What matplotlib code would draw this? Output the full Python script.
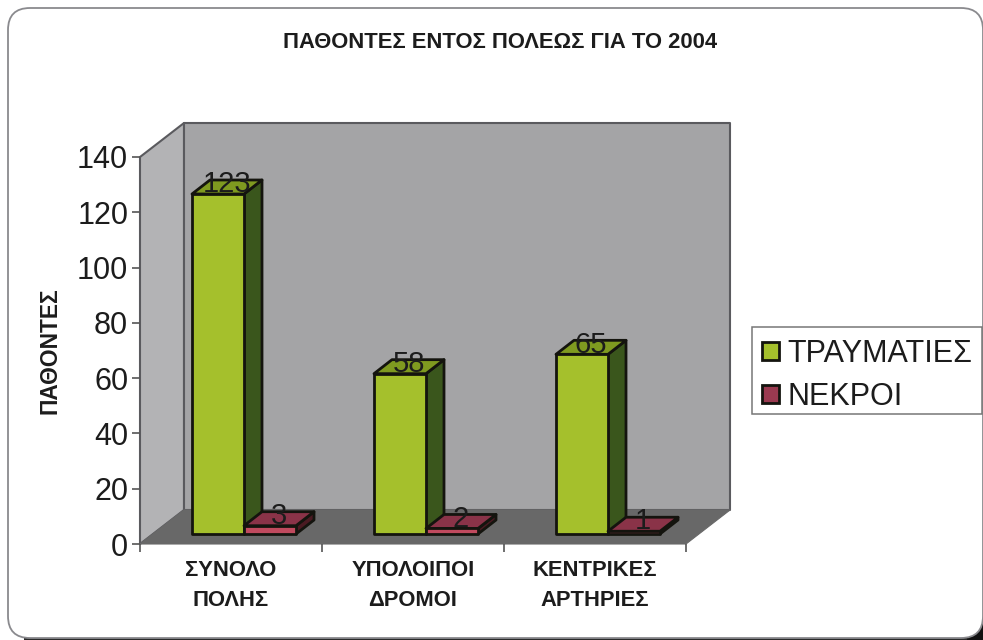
import matplotlib
matplotlib.use("Agg")
import matplotlib.pyplot as plt
from matplotlib.patches import Polygon, Rectangle, FancyBboxPatch

categories = ["ΣΥΝΟΛΟ\nΠΟΛΗΣ", "ΥΠΟΛΟΙΠΟΙ\nΔΡΟΜΟΙ", "ΚΕΝΤΡΙΚΕΣ\nΑΡΤΗΡΙΕΣ"]
injured = [123, 58, 65]
dead = [3, 2, 1]
series_names = ["ΤΡΑΥΜΑΤΙΕΣ", "ΝΕΚΡΟΙ"]
y_ticks = [0, 20, 40, 60, 80, 100, 120, 140]
title_text = "ΠΑΘΟΝΤΕΣ ΕΝΤΟΣ ΠΟΛΕΩΣ ΓΙΑ ΤΟ 2004"
y_title = "ΠΑΘΟΝΤΕΣ"

W, H = 983, 640
plt.rcParams["font.family"] = ["Liberation Sans", "DejaVu Sans"]
fig = plt.figure(figsize=(W / 100, H / 100), dpi=100, facecolor="white")

# Rounded frame around the whole chart area
bg = fig.add_axes([0, 0, 1, 1], zorder=0)
bg.set_xlim(0, W)
bg.set_ylim(H, 0)
bg.axis("off")
bg.add_patch(Rectangle((W - 20, H - 16), 20, 16, fc="#111111", ec="none"))
bg.add_patch(Rectangle((24, H - 3), W - 40, 3, fc="#2a2a2a", ec="none"))
bg.add_patch(FancyBboxPatch((8, 8), W - 8, H - 10, boxstyle="round,pad=0,rounding_size=22",
                            fc="white", ec="#8a8a8e", lw=1.3))

# Plot axes: the front plane of the 3-D box
L, R, T, B = 140, 686, 157, 544
ax = fig.add_axes([L / W, 1 - B / H, (R - L) / W, (B - T) / H], zorder=1)
ax.set_xlim(0, 3)
ax.set_ylim(0, 140)
ax.patch.set_alpha(0)
for s in ax.spines.values():
    s.set_visible(False)

px_x = 3 / (R - L)
px_y = 140 / (B - T)
box_dx, box_dy = 44 * px_x, 34 * px_y      # depth of the whole box
bar_dx, bar_dy = 18 * px_x, 14 * px_y      # depth of a bar
off_y = 10 * px_y                          # bars stand part-way into the floor
bar_w = 52 * px_x
gap = 52 * px_x
edge = "#14140e"


def poly(pts, fc, ec=edge, lw=2.0, z=2):
    ax.add_patch(Polygon(pts, closed=True, fc=fc, ec=ec, lw=lw, joinstyle="round", zorder=z, clip_on=False))


# Walls and floor
poly([(0, 0), (box_dx, box_dy), (box_dx, 140 + box_dy), (0, 140)], "#b3b3b5", ec="#5a5a5e", lw=1.5, z=1)
poly([(box_dx, box_dy), (3 + box_dx, box_dy), (3 + box_dx, 140 + box_dy), (box_dx, 140 + box_dy)],
     "#a4a4a6", ec="#5a5a5e", lw=1.5, z=1)
poly([(0, 0), (3, 0), (3 + box_dx, box_dy), (box_dx, box_dy)], "#686868", ec="#686868", lw=0.8, z=1.5)


def bar3d(x, v, front, top, side):
    y0 = off_y
    y1 = off_y + v
    poly([(x + bar_w, y0), (x + bar_w + bar_dx, y0 + bar_dy),
          (x + bar_w + bar_dx, y1 + bar_dy), (x + bar_w, y1)], side)
    poly([(x, y1), (x + bar_w, y1), (x + bar_w + bar_dx, y1 + bar_dy), (x + bar_dx, y1 + bar_dy)], top)
    poly([(x, y0), (x + bar_w, y0), (x + bar_w, y1), (x, y1)], front)


for i, (a, b) in enumerate(zip(injured, dead)):
    x1 = i + gap
    x2 = x1 + bar_w
    bar3d(x1, a, "#a5c02c", "#7f9a20", "#3a561c")
    bar3d(x2, b, "#c04a5e", "#8a3348", "#4a1a22")
    ax.text(x1 + bar_w / 2 + bar_dx / 2, off_y + a + bar_dy / 2 + 1, str(a), ha="center", va="center",
            fontsize=21, color="#1c1c1c", zorder=5)
    ax.text(x2 + bar_w / 2 + bar_dx / 2, off_y + b + bar_dy / 2 + 1, str(b), ha="center", va="center",
            fontsize=21, color="#1c1c1c", zorder=5)

# Axes ticks and labels
ax.set_yticks(y_ticks)
ax.set_yticklabels([str(v) for v in y_ticks], fontsize=22, color="#1c1c1c")
ax.set_xticks([0, 1, 2, 3])
ax.set_xticklabels([])
ax.tick_params(axis="y", length=6, width=1.2, color="#555555", pad=2.5)
ax.tick_params(axis="x", length=6, width=1.2, color="#555555")
for i, c in enumerate(categories):
    ax.text(i + 0.5, -5.8, c, ha="center", va="top", fontsize=15.8, fontweight="bold",
            color="#1c1c1c", linespacing=1.55)

fig.text(500 / W, 1 - 42 / H, title_text, ha="center", va="center", fontsize=15.8, fontweight="bold", color="#1c1c1c")
fig.text(50 / W, 1 - 351 / H, y_title, ha="center", va="center", rotation=90, fontsize=16.4,
         fontweight="bold", color="#1c1c1c")

# Legend: frame drawn separately so its box can sit tight around the rows
bg.add_patch(Rectangle((752, 327), 230, 87, fc="white", ec="#777777", lw=1.1))
handles = [Rectangle((0, 0), 1, 1, fc="#a5c02c", ec=edge, lw=2.0),
           Rectangle((0, 0), 1, 1, fc="#9a3a50", ec=edge, lw=2.0)]
fig.legend(handles, series_names, loc="upper left", bbox_to_anchor=(752 / W, 1 - 329 / H), borderaxespad=0,
           fontsize=22, frameon=False,
           handlelength=0.55, handleheight=0.55, handletextpad=0.27, labelspacing=0.42, borderpad=0.33,
           labelcolor="#1c1c1c")

fig.savefig("out.png", dpi=100)
